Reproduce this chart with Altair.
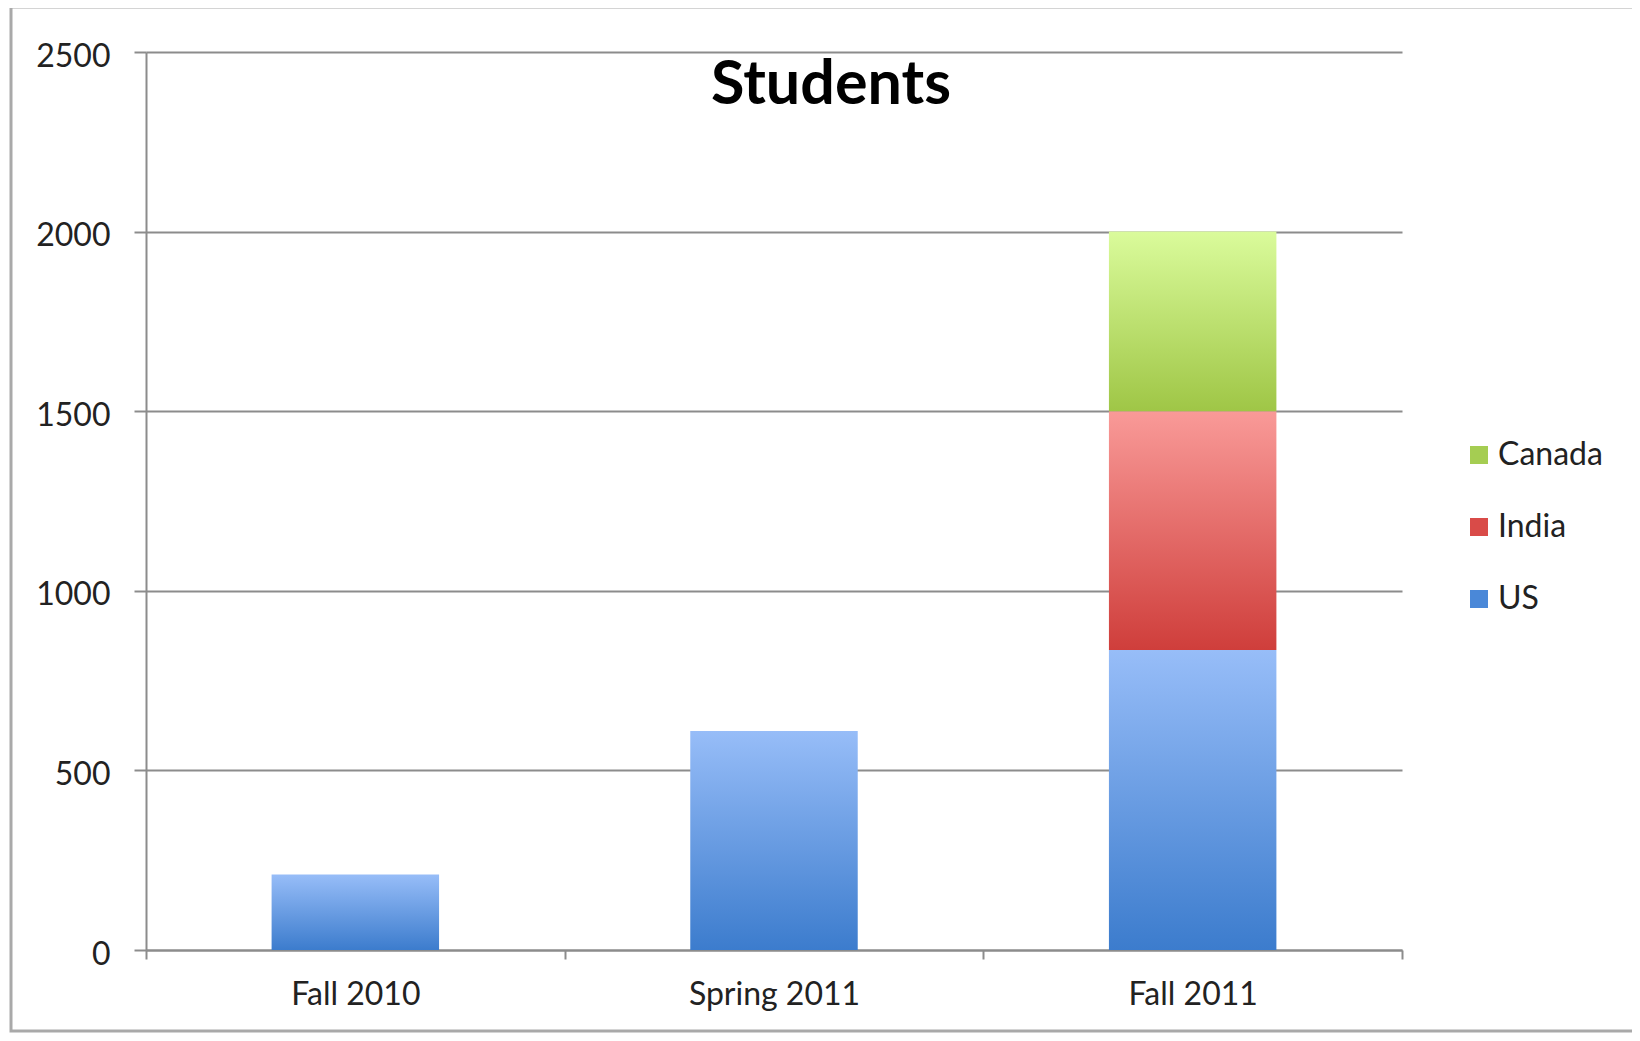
import altair as alt
import pandas as pd

periods = ["Fall 2010", "Spring 2011", "Fall 2011"]
countries = ["US", "India", "Canada"]
us_vals = [210, 610, 835]
india_vals = [0, 0, 665]
canada_vals = [0, 0, 500]
y_ticks = [0, 500, 1000, 1500, 2000, 2500]

grad_top = {"US": "#97bdf8", "India": "#f99a98", "Canada": "#dafb9b"}
grad_bottom = {"US": "#3c7ccd", "India": "#cf3e3b", "Canada": "#9fc646"}
legend_colors = {"US": "#4a88d8", "India": "#d94b48", "Canada": "#a5cd52"}

rows = []
for i, p in enumerate(periods):
    for j, (c, vals) in enumerate(zip(countries, [us_vals, india_vals, canada_vals])):
        if vals[i] > 0:
            rows.append({"period": p, "country": c, "count": vals[i], "order": j})
df = pd.DataFrame(rows)

FONT = "Lato"
FS = 32

xenc = alt.X(
    "period:N",
    sort=periods,
    scale=alt.Scale(paddingInner=0, paddingOuter=0),
    axis=alt.Axis(title=None, labelAngle=0, tickBand="extent", ticks=True, tickSize=9,
                  tickWidth=2, tickColor="#8c8c8c", domainColor="#8c8c8c", domainWidth=2,
                  labelPadding=20, labelFont=FONT, labelFontSize=FS, labelColor="#222222",
                  grid=False),
)
yenc_axis = alt.Axis(title=None, values=y_ticks, format="d", grid=True, gridColor="#8c8c8c",
                     gridWidth=2, tickSize=12, tickWidth=2, tickColor="#8c8c8c",
                     domainColor="#8c8c8c", domainWidth=2, labelPadding=24, labelOffset=4,
                     labelFont=FONT, labelFontSize=FS, labelColor="#222222")

base = alt.Chart(df).transform_stack(
    stack="count", groupby=["period"], as_=["y0", "y1"],
    sort=[alt.SortField("order", order="ascending")],
)


def grad(top, bottom):
    return alt.LinearGradient(
        gradient="linear", x1=0, y1=0, x2=0, y2=1,
        stops=[alt.GradientStop(color=top, offset=0), alt.GradientStop(color=bottom, offset=1)],
    )


bar_layers = []
for c in countries:
    bar_layers.append(
        base.transform_filter(alt.datum.country == c)
        .mark_bar(color=grad(grad_top[c], grad_bottom[c]), width=alt.RelativeBandSize(0.4))
        .encode(
            x=xenc,
            y=alt.Y("y0:Q", scale=alt.Scale(domain=[0, 2500], nice=False), axis=yenc_axis),
            y2="y1:Q",
        )
    )

legend_order = ["Canada", "India", "US"]
legend_layer = alt.Chart(df).mark_square(size=0, opacity=0).encode(
    color=alt.Color(
        "country:N",
        scale=alt.Scale(domain=legend_order, range=[legend_colors[c] for c in legend_order]),
        legend=alt.Legend(title=None, orient="none", legendX=1317, legendY=387,
                          symbolType="square", symbolSize=324, symbolOpacity=1,
                          symbolStrokeWidth=0, labelFont=FONT, labelFontSize=FS,
                          labelColor="#222222", rowPadding=40, labelOffset=3, padding=0),
    ),
)

frame = alt.Chart(alt.Data(values=[{"a": 1}])).mark_rect(
    filled=False, stroke="#a9a9a9", strokeWidth=3
).encode(x=alt.value(-135), x2=alt.value(1500), y=alt.value(-45), y2=alt.value(979))

chart = alt.layer(frame, *bar_layers, legend_layer).properties(
    width=1256,
    height=898,
    autosize=alt.AutoSizeParams(type="none"),
    padding={"left": 138, "top": 44, "right": 230, "bottom": 83},
    title=alt.TitleParams("Students", font=FONT, fontSize=61, fontWeight="bold", color="#000000",
                          anchor="middle", frame="group", offset=0, baseline="alphabetic",
                          dx=57, dy=159),
).configure_view(strokeWidth=0)

chart.save("out.html", embed_options={"renderer": "svg", "actions": False})
